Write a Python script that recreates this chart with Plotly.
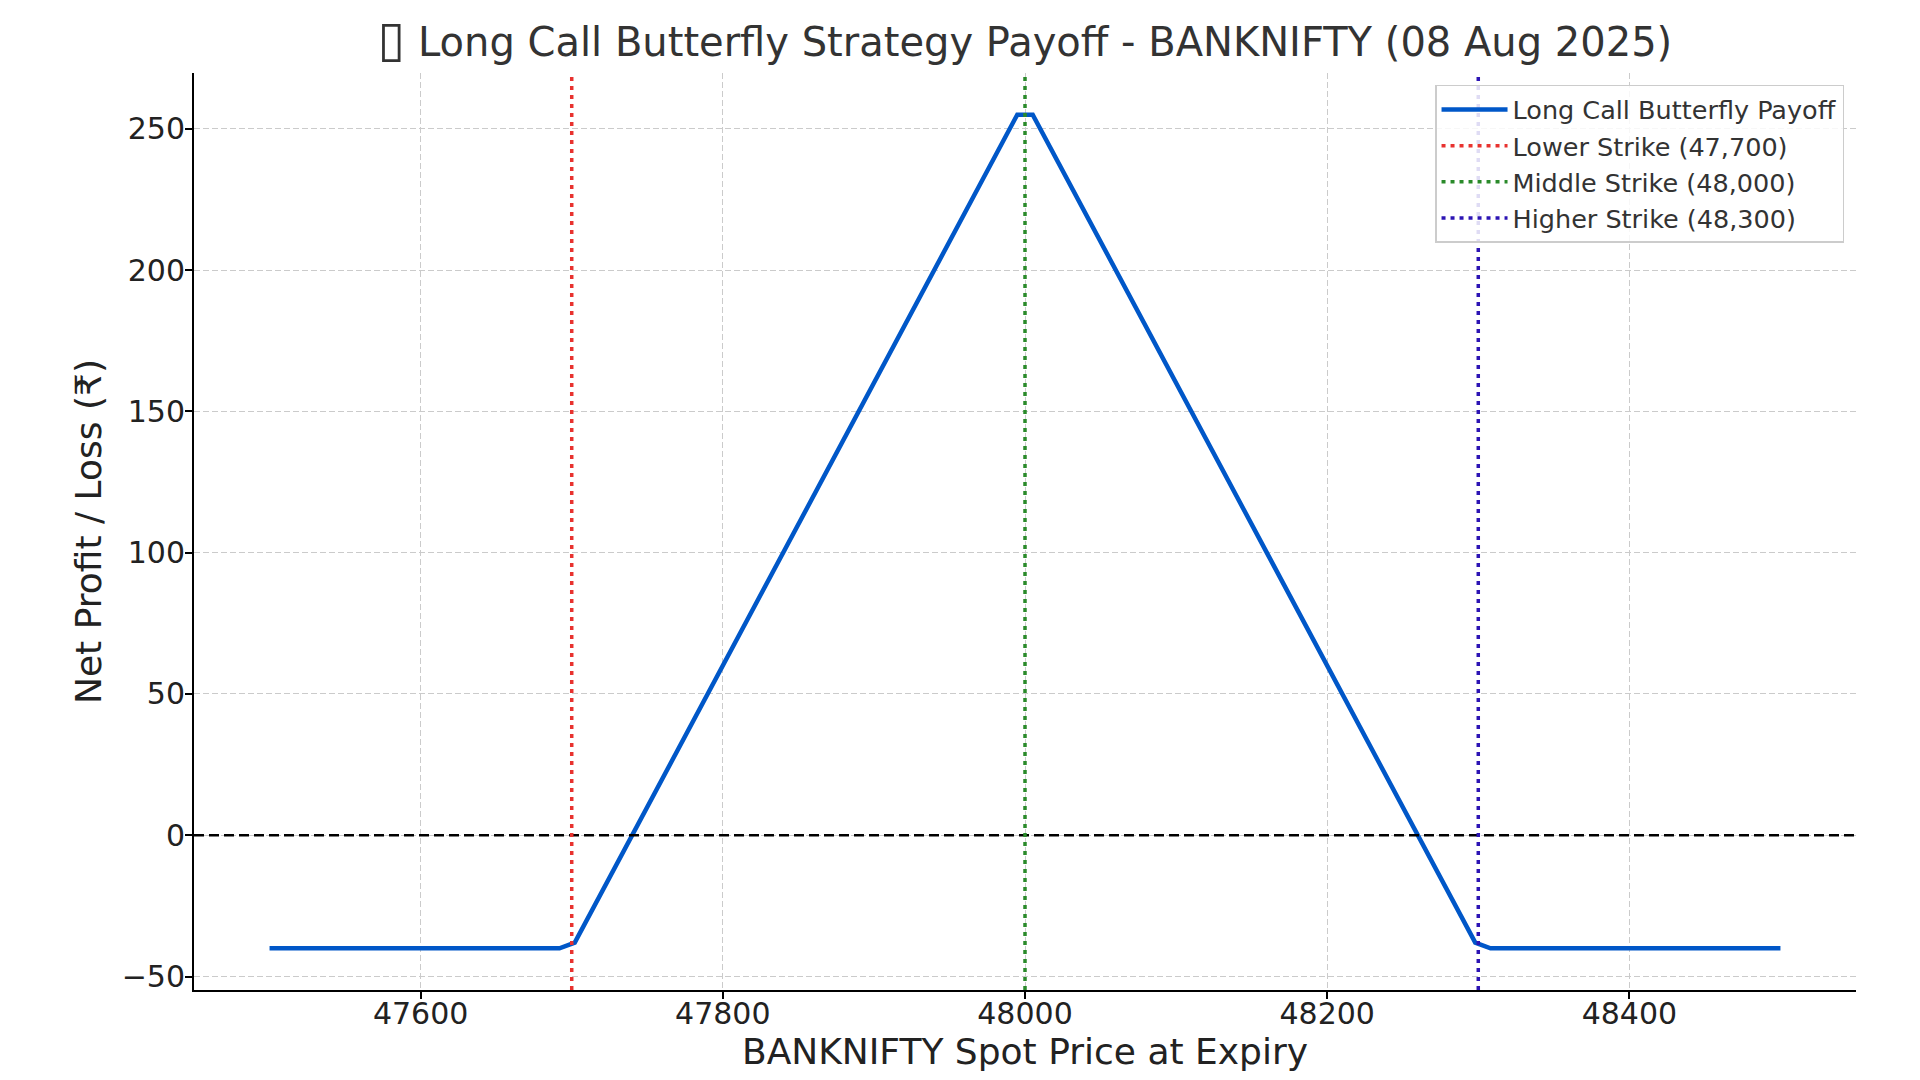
import plotly.graph_objects as go

# Payoff line break points
spot = [47500, 47691.9, 47702.0, 47994.9, 48005.1, 48298.0, 48308.1, 48500]
payoff = [-40, -40, -38, 255, 255, -38, -40, -40]

strikes = [47700, 48000, 48300]
strike_names = ['Lower Strike (47,700)', 'Middle Strike (48,000)', 'Higher Strike (48,300)']
strike_colors = ['#e8322f', '#2a8a2a', '#2c14b4']

x_ticks = [47600, 47800, 48000, 48200, 48400]
y_ticks = [-50, 0, 50, 100, 150, 200, 250]

font = 'DejaVu Sans'

fig = go.Figure()
fig.add_trace(go.Scatter(x=spot, y=payoff, mode='lines', name='Long Call Butterfly Payoff',
                         line=dict(color='#0057c8', width=4.5)))

# zero line
fig.add_hline(y=0, line=dict(color='black', width=2.5, dash='10px,5px'))

# strike lines, shown in legend
for k, name, col in zip(strikes, strike_names, strike_colors):
    fig.add_shape(type='line', x0=k, x1=k, y0=0, y1=1, xref='x', yref='paper',
                  line=dict(color=col, width=3.5, dash='4px,5px'),
                  showlegend=True, name=name)

fig.update_layout(
    width=1920, height=1080,
    paper_bgcolor='white', plot_bgcolor='white',
    margin=dict(l=186, r=72, t=65, b=98),
    font=dict(family=font, size=30, color='#222222'),
    title=dict(text='<span style="font-size:50px">▯</span> Long Call Butterfly Strategy Payoff - BANKNIFTY (08 Aug 2025)',
               x=0.5, xref='paper', xanchor='center',
               y=1 - 34 / 1080, yref='container', yanchor='middle',
               font=dict(size=40, color='#333333')),
    legend=dict(x=0.9928, y=0.987, xanchor='right', yanchor='top',
                bgcolor='rgba(255,255,255,0.85)', bordercolor='#cccccc', borderwidth=1.5,
                itemwidth=66,
                font=dict(size=25.5, color='#333333')),
    showlegend=True,
)

fig.update_xaxes(range=[47450, 48550], tickvals=x_ticks, ticktext=[str(v) for v in x_ticks],
                 title=dict(text='BANKNIFTY Spot Price at Expiry', standoff=5),
                 showline=True, linecolor='black', linewidth=2, mirror=False,
                 ticks='outside', ticklen=7, tickwidth=1.5, tickcolor='black',
                 ticklabelstandoff=-11,
                 showgrid=True, gridcolor='#cbcbcb', gridwidth=1, griddash='6px,3px',
                 zeroline=False)
fig.update_yaxes(range=[-54.75, 269.75], tickvals=y_ticks,
                 ticktext=['−50' if v < 0 else str(v) for v in y_ticks],
                 title=dict(text='Net Profit / Loss (₹)', standoff=9),
                 showline=True, linecolor='black', linewidth=2, mirror=False,
                 ticks='outside', ticklen=7, tickwidth=1.5, tickcolor='black',
                 ticklabelstandoff=-6,
                 showgrid=True, gridcolor='#cbcbcb', gridwidth=1, griddash='6px,3px',
                 zeroline=False)

fig.write_html('out.html')
